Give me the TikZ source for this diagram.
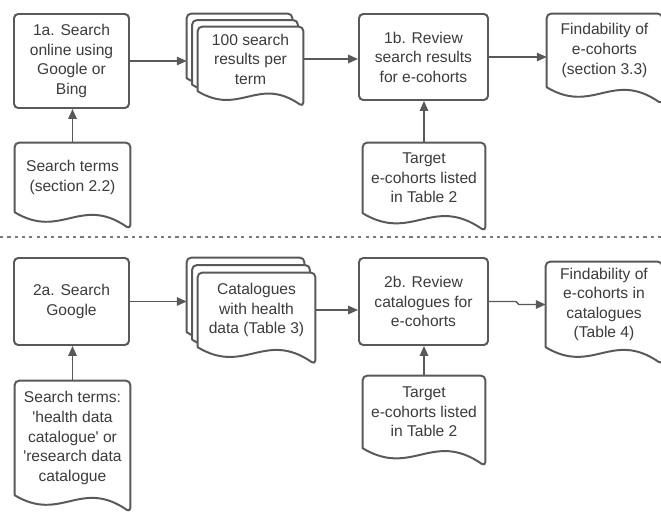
\documentclass[tikz,border=0pt]{standalone}
\usepackage{fontspec}
\setmainfont{Liberation Sans}[Ligatures=TeXOff]
\usetikzlibrary{arrows.meta, calc, backgrounds}
\definecolor{linegray}{HTML}{595959}
\definecolor{textgray}{HTML}{3C3C3C}

\newcommand{\docpage}[1]{%
  \begin{scope}[on background layer]
    \draw[docline] let \p1=(#1.south west), \p2=(#1.south east), \n1={\x2-\x1} in
      (\p1) [rounded corners=3pt] -- (#1.north west) -- (#1.north east) -- (\x2,\y2-0.147*\n1) [sharp corners]
      .. controls (\x1+0.57*\n1,\y1+0.15*\n1) and (\x1+0.40*\n1,\y1-0.24*\n1) .. (\p1) -- cycle;
  \end{scope}}

\begin{document}
\begin{tikzpicture}[
    font=\fontsize{11.1}{13.9}\selectfont, text=textgray,
    procbox/.style={draw=linegray, line width=1.4pt, rounded corners=3pt, align=center, inner sep=0pt},
    docnode/.style={align=center, inner sep=0pt},
    docline/.style={draw=linegray, line width=1.4pt, fill=white, line join=round},
    conn/.style={draw=linegray, line width=1pt, -{Triangle[length=7pt,width=6pt]}},
    divider/.style={draw=linegray!80, line width=0.8pt, dash pattern=on 2.3pt off 2.9pt}]
    \useasboundingbox (0,0) rectangle (16.525,12.875);

    \node[procbox, minimum width=2.875cm, minimum height=2.35cm] (a1) at (1.7875,11.35) {1a. Search\\online using\\Google or\\Bing};
    \node[docnode, minimum width=2.875cm, minimum height=1.725cm] (st1) at (1.8125,8.4375) {Search terms\\(section 2.2)};
    \docpage{st1}
    \node[docnode, minimum width=2.625cm, minimum height=1.6cm] (s1c) at (5.9875,11.725) {};
    \node[docnode, minimum width=2.625cm, minimum height=1.6cm] (s1b) at (6.125,11.5625) {};
    \node[docnode, minimum width=2.625cm, minimum height=1.6cm] (s1) at (6.2625,11.4) {100 search\\results per\\term};
    \docpage{s1c}
    \docpage{s1b}
    \docpage{s1}
    \node[procbox, minimum width=3.225cm, minimum height=2.15cm] (b1) at (10.5875,11.45) {1b. Review\\search results\\for e-cohorts};
    \node[docnode, minimum width=3.05cm, minimum height=1.75cm] (tg1) at (10.6,8.425) {Target\\e-cohorts listed\\in Table 2};
    \docpage{tg1}
    \node[docnode, minimum width=2.875cm, minimum height=1.825cm] (f1) at (15.1125,11.6125) {Findability of\\e-cohorts\\(section 3.3)};
    \docpage{f1}

    \draw[conn] (st1.north) -- (st1.north |- a1.south);
    \draw[conn] (a1.east) -- (a1.east -| s1c.west);
    \draw[conn] (s1.east) -- (s1.east -| b1.west);
    \draw[conn] (b1.east) -- (b1.east -| f1.west);
    \draw[conn] (tg1.north) -- (tg1.north |- b1.south);

    \draw[divider] (0,6.95) -- (16.525,6.95);

    \node[procbox, minimum width=2.875cm, minimum height=2.175cm] (a2) at (1.7875,5.3375) {2a. Search\\Google};
    \node[docnode, minimum width=2.875cm, minimum height=2.85cm] (st2) at (1.8125,1.925) {Search terms:\\'health data\\catalogue' or\\'research data\\catalogue};
    \docpage{st2}
    \node[docnode, minimum width=2.925cm, minimum height=1.85cm] (s2c) at (6.1375,5.5) {};
    \node[docnode, minimum width=2.925cm, minimum height=1.85cm] (s2b) at (6.275,5.3125) {};
    \node[docnode, minimum width=2.925cm, minimum height=1.85cm] (s2) at (6.4125,5.125) {Catalogues\\with health\\data (Table 3)};
    \docpage{s2c}
    \docpage{s2b}
    \docpage{s2}
    \node[procbox, minimum width=3.225cm, minimum height=2.175cm] (b2) at (10.5875,5.3375) {2b. Review\\catalogues for\\e-cohorts};
    \node[docnode, minimum width=3.05cm, minimum height=1.8cm] (tg2) at (10.6,2.575) {Target\\e-cohorts listed\\in Table 2};
    \docpage{tg2}
    \node[docnode, minimum width=2.9cm, minimum height=2.125cm] (f2) at (15.1,5.2625) {Findability of\\e-cohorts in\\catalogues\\(Table 4)};
    \docpage{f2}

    \draw[conn] (st2.north) -- (st2.north |- a2.south);
    \draw[conn] (a2.east) -- (a2.east -| s2c.west);
    \draw[conn] (s2.east) -- (s2.east -| b2.west);
    \draw[conn] (b2.east) -- ++(0.675,0) -- ([xshift=-0.675cm]f2.west) -- (f2.west);
    \draw[conn] (tg2.north) -- (tg2.north |- b2.south);
\end{tikzpicture}
\end{document}
